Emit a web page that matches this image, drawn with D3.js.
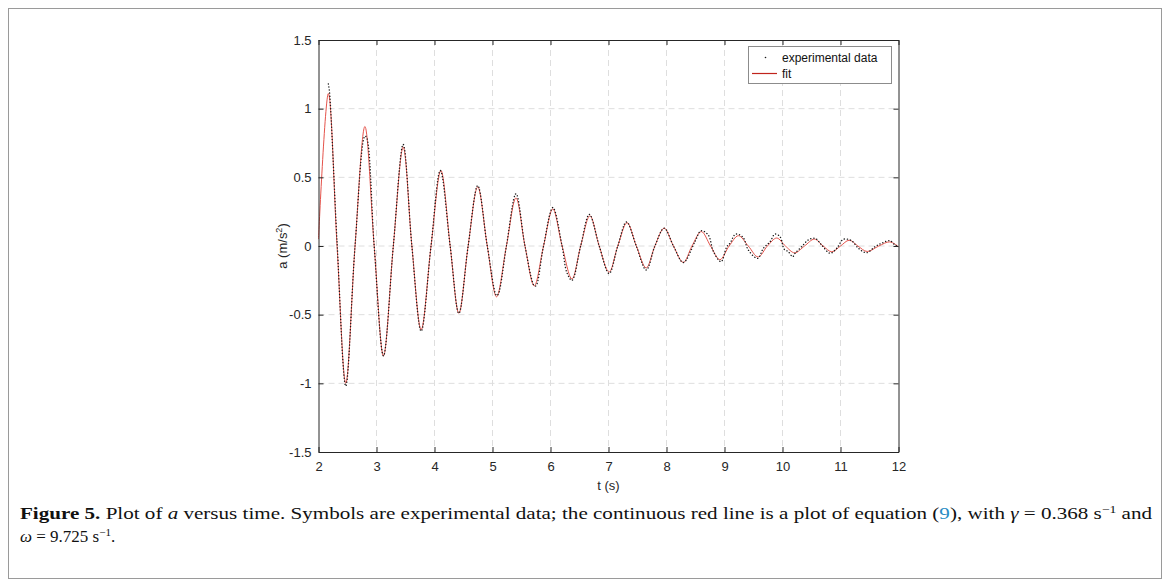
<!DOCTYPE html>
<html><head><meta charset="utf-8">
<script src="https://cdn.jsdelivr.net/npm/d3@7"></script>
<style>
html,body{margin:0;padding:0;background:#fff;}
svg{display:block;}
</style>
</head><body>
<svg id="c" width="1170" height="587"></svg>
<script>
// ---- data ----
const xTicks = [2,3,4,5,6,7,8,9,10,11,12];
const yTicks = [-1.5,-1,-0.5,0,0.5,1,1.5];
const yTickLabels = ["-1.5","-1","-0.5","0","0.5","1","1.5"];

// fit (red line): extrema and zero crossings
const fitT = [2.0,2.17,2.32,2.47,2.63,2.80,2.96,3.12,3.29,3.46,3.61,3.77,3.94,4.11,4.27,4.42,4.58,4.745,4.91,5.07,5.24,5.405,5.56,5.72,5.88,6.04,6.20,6.37,6.52,6.68,6.84,7.01,7.16,7.32,7.48,7.65,7.80,7.96,8.12,8.29,8.44,8.60,8.76,8.92,9.08,9.24,9.41,9.58,9.74,9.90,10.05,10.21,10.38,10.55,10.70,10.85,11.00,11.15,11.30,11.46,11.66,11.85,12.0];
const fitA = [0.05,1.11,0,-1.00,0,0.87,0,-0.80,0,0.72,0,-0.61,0,0.55,0,-0.49,0,0.43,0,-0.37,0,0.35,0,-0.29,0,0.27,0,-0.24,0,0.22,0,-0.19,0,0.17,0,-0.16,0,0.13,0,-0.12,0,0.105,0,-0.10,0,0.075,0,-0.08,0,0.058,0,-0.05,0,0.05,0,-0.042,0,0.042,0,-0.04,0,0.03,-0.005];

// experimental data (black dots)
const dataT = [2.17,2.19,2.32,2.47,2.63,2.80,2.83,2.96,3.12,3.29,3.46,3.61,3.77,3.94,4.10,4.27,4.42,4.58,4.745,4.91,5.07,5.10,5.24,5.405,5.56,5.72,5.75,5.88,6.04,6.20,6.28,6.37,6.52,6.67,6.84,7.01,7.16,7.31,7.48,7.65,7.80,7.96,8.12,8.29,8.49,8.595,8.72,8.81,8.94,9.04,9.095,9.193,9.32,9.41,9.572,9.67,9.785,9.87,9.957,10.03,10.10,10.176,10.216,10.33,10.445,10.56,10.675,10.82,10.934,11.05,11.19,11.31,11.45,11.595,11.71,11.85,11.94,12.0];
const dataA = [1.18,1.12,0.03,-1.02,0,0.80,0.79,0,-0.80,0,0.74,0,-0.62,0,0.55,0,-0.49,0,0.44,0,-0.36,-0.35,0,0.38,0,-0.29,-0.29,0,0.28,0,-0.19,-0.25,0,0.23,0,-0.20,0,0.175,0,-0.175,0,0.13,0,-0.12,0.031,0.111,0.08,-0.041,-0.114,-0.005,0.02,0.087,0.063,-0.029,-0.090,-0.017,0.031,0.087,0.068,-0.024,-0.041,-0.078,-0.053,-0.005,0.044,0.056,0.007,-0.053,-0.017,0.049,0.039,-0.017,-0.049,-0.005,0.02,0.039,0.007,-0.005];

const legendLabels = ["experimental data","fit"];

// ---- drawing ----
const svg = d3.select("#c");
svg.append("rect").attr("x",0).attr("y",0).attr("width",1170).attr("height",587).attr("fill","#fff");
svg.append("rect").attr("x",8.5).attr("y",8.5).attr("width",1153).attr("height",570)
  .attr("fill","none").attr("stroke","#9a9a9a").attr("stroke-width",1);

const L=318.5, R=898.5, T=40, B=452;
const x = d3.scaleLinear().domain([2,12]).range([L,R]);
const y = d3.scaleLinear().domain([-1.5,1.5]).range([B,T]);
const font = "'Liberation Sans', Arial, Helvetica, sans-serif";
const axCol = "#262626";

// grid
const g = svg.append("g");
g.selectAll("line.gx").data(xTicks.filter(d=>d>2&&d<12)).join("line")
  .attr("x1",d=>x(d)).attr("x2",d=>x(d)).attr("y1",T).attr("y2",B)
  .attr("stroke","#dedede").attr("stroke-width",1).attr("stroke-dasharray","6,4");
g.selectAll("line.gy").data(yTicks.filter(d=>d>-1.5&&d<1.5)).join("line")
  .attr("y1",d=>y(d)).attr("y2",d=>y(d)).attr("x1",L).attr("x2",R)
  .attr("stroke","#dedede").attr("stroke-width",1).attr("stroke-dasharray","6,4");

// fit
const fitPts = fitT.map((t,i)=>[t,fitA[i]]);
const dataPts = dataT.map((t,i)=>[t,dataA[i]]);
const line = d3.line().x(d=>x(d[0])).y(d=>y(d[1])).curve(d3.curveCatmullRom.alpha(0.5));
svg.append("path").attr("d",line(fitPts)).attr("fill","none")
  .attr("stroke","#e5534b").attr("stroke-width",1);
// experimental data, drawn as dots along the path
svg.append("path").attr("d",line(dataPts)).attr("fill","none")
  .attr("stroke","#1a1a1a").attr("stroke-width",1.4).attr("stroke-linecap","round")
  .attr("stroke-dasharray","0.1,3");

// axes
function styleAxis(sel){
  sel.selectAll("path.domain").attr("stroke",axCol).attr("stroke-width",1);
  sel.selectAll(".tick line").attr("stroke",axCol).attr("stroke-width",1);
  sel.selectAll("text").attr("fill",axCol).attr("font-family",font).attr("font-size",13);
}
const xa = svg.append("g").attr("transform",`translate(0,${B})`)
  .call(d3.axisBottom(x).tickValues(xTicks).tickFormat(d3.format("d")).tickSizeInner(-5).tickSizeOuter(0).tickPadding(10));
styleAxis(xa);
const ya = svg.append("g").attr("transform",`translate(${L},0)`)
  .call(d3.axisLeft(y).tickValues(yTicks).tickFormat((d,i)=>yTickLabels[i]).tickSizeInner(-5).tickSizeOuter(0).tickPadding(7));
styleAxis(ya);
const xt = svg.append("g").attr("transform",`translate(0,${T})`)
  .call(d3.axisTop(x).tickValues(xTicks).tickFormat("").tickSizeInner(-5).tickSizeOuter(0));
styleAxis(xt);
const yr = svg.append("g").attr("transform",`translate(${R},0)`)
  .call(d3.axisRight(y).tickValues(yTicks).tickFormat("").tickSizeInner(-5).tickSizeOuter(0));
styleAxis(yr);

// axis labels
svg.append("text").attr("x",(L+R)/2).attr("y",490).attr("text-anchor","middle")
  .attr("font-family",font).attr("font-size",13).attr("fill",axCol).text("t (s)");
const yl = svg.append("text").attr("transform",`translate(287,${(T+B)/2}) rotate(-90)`)
  .attr("text-anchor","middle").attr("font-family",font).attr("font-size",13).attr("fill",axCol);
yl.append("tspan").text("a (m/s");
yl.append("tspan").attr("dy",-5).attr("font-size",9).text("2");
yl.append("tspan").attr("dy",5).text(")");

// legend
const lg = svg.append("g");
lg.append("rect").attr("x",748.5).attr("y",46.5).attr("width",143).attr("height",37)
  .attr("fill","#fff").attr("stroke","#8c8c8c").attr("stroke-width",1);
lg.append("circle").attr("cx",765.5).attr("cy",57.5).attr("r",0.8).attr("fill","#1a1a1a");
lg.append("line").attr("x1",752).attr("x2",777).attr("y1",73.5).attr("y2",73.5)
  .attr("stroke","#c0241c").attr("stroke-width",1.2);
lg.selectAll("text").data(legendLabels).join("text")
  .attr("x",782).attr("y",(d,i)=>62+i*15.5)
  .attr("font-family",font).attr("font-size",12).attr("fill","#111").text(d=>d);

// caption
const serif = "'Liberation Serif','DejaVu Serif',serif";
const c1 = svg.append("text").attr("x",20).attr("y",519).attr("font-family",serif)
  .attr("font-size",17).attr("fill","#111")
  .attr("textLength",1132).attr("lengthAdjust","spacingAndGlyphs");
c1.append("tspan").attr("font-weight","bold").text("Figure 5.");
c1.append("tspan").text(" Plot of ");
c1.append("tspan").attr("font-style","italic").text("a");
c1.append("tspan").text(" versus time. Symbols are experimental data; the continuous red line is a plot of equation (");
c1.append("tspan").attr("fill","#2a8cc4").text("9");
c1.append("tspan").text("), with ");
c1.append("tspan").attr("font-style","italic").text("γ");
c1.append("tspan").text(" = 0.368 s");
c1.append("tspan").attr("dy",-6).attr("font-size",11).text("−1");
c1.append("tspan").attr("dy",6).text(" and");
const c2 = svg.append("text").attr("x",20).attr("y",542).attr("font-family",serif)
  .attr("font-size",17).attr("fill","#111");
c2.append("tspan").attr("font-style","italic").text("ω");
c2.append("tspan").text(" = 9.725 s");
c2.append("tspan").attr("dy",-6).attr("font-size",11).text("−1");
c2.append("tspan").attr("dy",6).text(".");
</script>
</body></html>
